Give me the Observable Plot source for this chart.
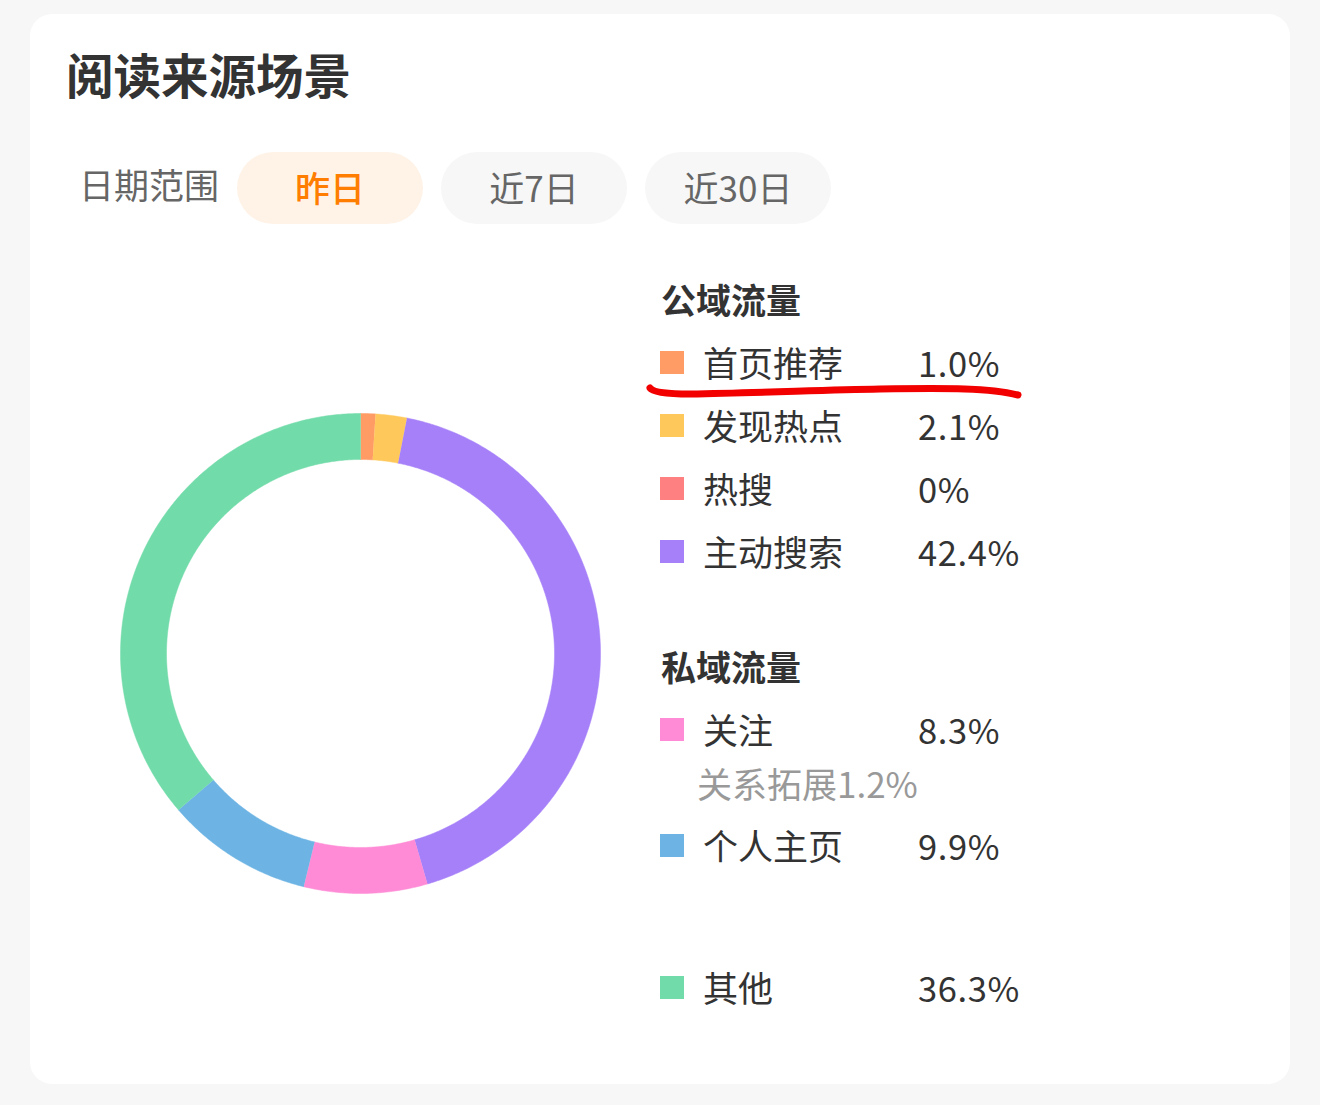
<!DOCTYPE html>
<html><head><meta charset="utf-8">
<script src="https://cdn.jsdelivr.net/npm/d3@7"></script>
<script src="https://cdn.jsdelivr.net/npm/@observablehq/plot@0.6"></script>
<style>
html,body{margin:0;padding:0}
body{width:1320px;height:1105px;background:#f7f7f7;font-family:"Noto Sans CJK SC","Noto Sans",sans-serif;position:relative;overflow:hidden}
.card{position:absolute;left:30px;top:14px;width:1260px;height:1070px;background:#fff;border-radius:22px}
.abs{position:absolute;white-space:nowrap}
.title{left:66px;top:44px;height:60px;line-height:60px;font-size:47.5px;font-weight:700;color:#333}
.lbl{font-size:35px;line-height:50px;height:50px;color:#333}
.val{font-size:34.5px;letter-spacing:0.6px}
.pill{position:absolute;top:152px;height:72px;width:186px;border-radius:36px;display:flex;align-items:center;justify-content:center;font-size:35px;color:#666;background:#f7f7f7}
.pill span{position:relative;top:-2px}
.pill.on{background:#fff3e8;color:#ff7d00;font-weight:500}
.sw{position:absolute;width:24px;height:23px}
.head{font-weight:700}
#chart{position:absolute;left:118px;top:411px}
</style>
</head><body>
<div class="card"></div>
<div id="chart"></div>
<div id="root"></div>
<script>
// ---- data ----
const categories = ["首页推荐", "发现热点", "热搜", "主动搜索", "关注", "个人主页", "其他"];
const shares = [1.0, 2.1, 0, 42.4, 8.3, 9.9, 36.3];
const valueLabels = ["1.0%", "2.1%", "0%", "42.4%", "8.3%", "9.9%", "36.3%"];
const colors = ["#ff9c66", "#ffc85b", "#ff8080", "#a680f8", "#ff8ad5", "#6db4e4", "#71dba9"];
const groupTitles = ["公域流量", "私域流量"];
const subNames = ["关系拓展"];
const subShares = [1.2];
const rangeOptions = ["昨日", "近7日", "近30日"];

// ---- layout ----
const rowY = [364, 427, 490, 553, 731, 847, 989];
const headY = [300, 667];
const subY = 785;

const root = document.getElementById("root");
function add(cls, text, style) {
  const d = document.createElement("div");
  d.className = cls;
  d.textContent = text;
  Object.assign(d.style, style || {});
  root.appendChild(d);
  return d;
}
add("abs title", "阅读来源场景");
add("abs lbl", "日期范围", {left: "79px", top: "159px", color: "#666"});
rangeOptions.forEach((t, i) => {
  const d = add("pill" + (i === 0 ? " on" : ""), "", {left: (237 + i * 204) + "px"});
  const s = document.createElement("span");
  s.textContent = t;
  d.appendChild(s);
});
groupTitles.forEach((t, i) => add("abs lbl head", t, {left: "661px", top: (headY[i] - 26) + "px"}));
categories.forEach((c, i) => {
  add("sw", "", {left: "660px", top: (rowY[i] - 13) + "px", background: colors[i]});
  add("abs lbl", c, {left: "703px", top: (rowY[i] - 27) + "px"});
  add("abs lbl val", valueLabels[i], {left: "918px", top: (rowY[i] - 27) + "px"});
});
add("abs lbl", subNames[0] + subShares[0].toFixed(1) + "%", {left: "697px", top: (subY - 27) + "px", color: "#999"});

// ---- donut ring geometry built from shares ----
const outerR = 1, innerR = 194 / 240;
const total = d3.sum(shares);
const ring = [];
let acc = 0;
categories.forEach((c, i) => {
  const a0 = acc / total * 2 * Math.PI;
  acc += shares[i];
  const a1 = acc / total * 2 * Math.PI;
  if (shares[i] <= 0) return;
  const n = Math.max(2, Math.ceil((a1 - a0) / (Math.PI / 360)));
  for (let k = 0; k <= n; k++) {
    const a = a0 + (a1 - a0) * k / n;
    ring.push({name: c, x: outerR * Math.sin(a), y: outerR * Math.cos(a)});
  }
  for (let k = n; k >= 0; k--) {
    const a = a0 + (a1 - a0) * k / n;
    ring.push({name: c, x: innerR * Math.sin(a), y: innerR * Math.cos(a)});
  }
});

const plot = Plot.plot({
  width: 484,
  height: 484,
  margin: 2,
  x: {domain: [-1, 1], axis: null},
  y: {domain: [-1, 1], axis: null},
  color: {domain: categories, range: colors},
  marks: [
    Plot.line(ring, {x: "x", y: "y", z: "name", fill: "name", stroke: "name", strokeWidth: 0.5, curve: "linear"})
  ]
});
document.getElementById("chart").appendChild(plot);

// hand-drawn red underline annotation
const ns = "http://www.w3.org/2000/svg";
const svg = document.createElementNS(ns, "svg");
svg.setAttribute("width", "1320"); svg.setAttribute("height", "1105");
svg.style.position = "absolute"; svg.style.left = "0"; svg.style.top = "0"; svg.style.pointerEvents = "none";
const p = document.createElementNS(ns, "path");
p.setAttribute("d", "M650,388 Q654,394 690,394 C760,393 820,390 880,389 C950,388 990,388 1018,395");
p.setAttribute("fill", "none"); p.setAttribute("stroke", "#f20000"); p.setAttribute("stroke-width", "7");
p.setAttribute("stroke-linecap", "round");
svg.appendChild(p);
document.body.appendChild(svg);
</script>
</body></html>
